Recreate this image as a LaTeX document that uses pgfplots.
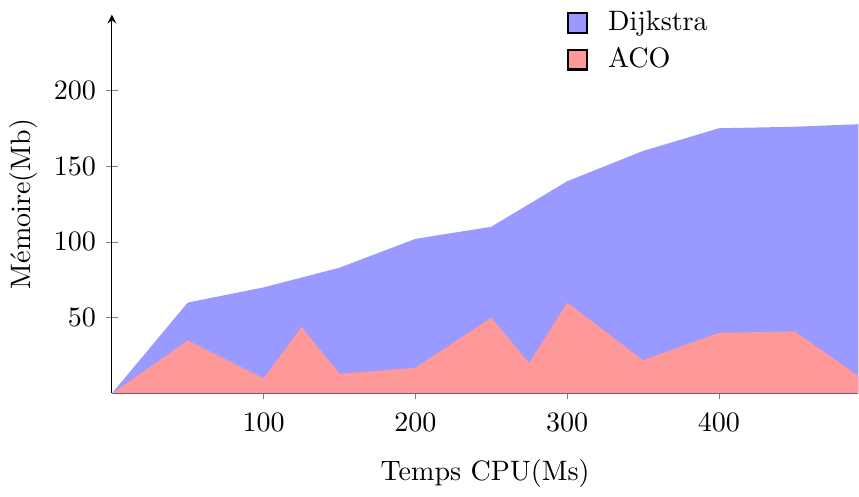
\documentclass[border=0pt]{standalone}
\usepackage{pgfplots}
\pgfplotsset{compat=1.18}
\begin{document}
\begin{tikzpicture}
\begin{axis}[
  scale only axis, width=266pt, height=135pt,
  axis lines=left, x axis line style={-},
  xmin=0, xmax=492, ymin=0, ymax=250,
  xtick={100,200,300,400}, ytick={50,100,150,200},
  xlabel={Temps CPU(Ms)}, ylabel={Mémoire(Mb)},
  xticklabel style={yshift=-1.5pt},
  xlabel style={yshift=-3pt},
  ylabel style={yshift=-1pt},
  legend style={draw=none, fill=none, at={(0.597,1.04)}, anchor=north west,
    row sep=0.5pt, nodes={inner xsep=7pt}},
  legend cell align=left,
  legend image code/.code={\draw[#1, draw=black, line width=0.8pt] (0pt,-3.5pt) rectangle (7pt,3.5pt);},
]
\addplot[fill=blue!40, draw=none] coordinates {
(0,0) (50,60) (100,70) (150,83) (200,102) (250,110) (300,140) (350,160) (400,175) (450,176) (500,178)
} \closedcycle;
\addlegendentry{Dijkstra}
\addplot[fill=red!40, draw=none] coordinates {
(0,0) (50,35) (100,10) (125,44) (150,13) (200,17) (250,50) (275,20) (300,60) (350,22) (400,40) (450,41) (500,6)
} \closedcycle;
\addlegendentry{ACO}
\end{axis}
\end{tikzpicture}
\end{document}
